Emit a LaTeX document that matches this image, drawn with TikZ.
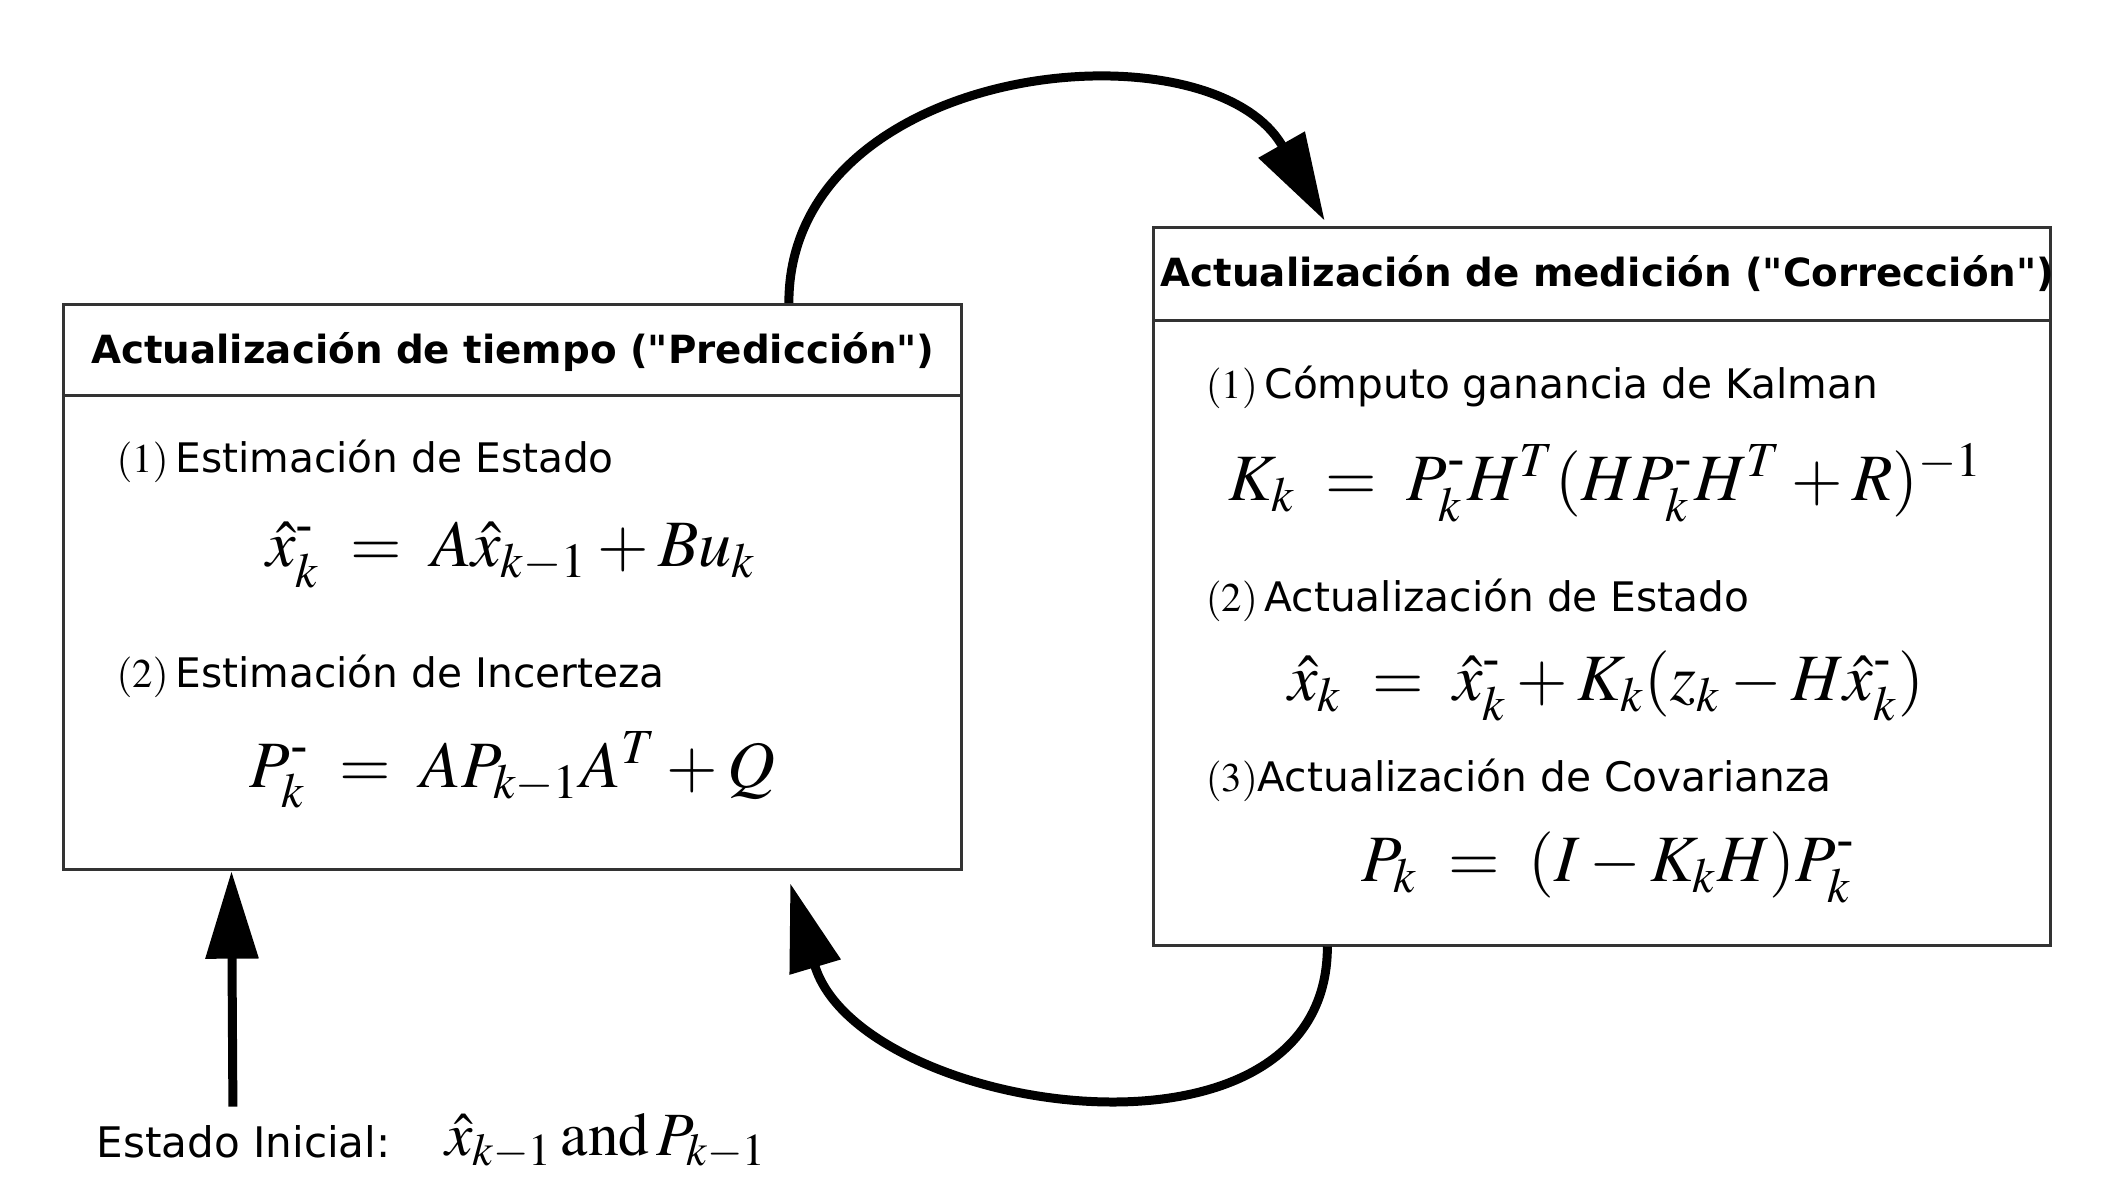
\documentclass[tikz,border=0pt]{standalone}
\usepackage{amsmath}
\usepackage{mathptmx}
\usepackage[no-math]{fontspec}
\setmainfont{DejaVu Sans}[Ligatures=TeXOff]
\usetikzlibrary{arrows.meta}

\tikzset{
  caja/.style={draw=black!80, line width=0.6pt, inner sep=0pt},
  titulo/.style={font=\fontsize{8.2}{10}\selectfont\bfseries, inner sep=0pt, anchor=base},
  paso/.style={font=\fontsize{8.6}{10}\selectfont, inner sep=0pt, anchor=base west},
  formula/.style={font=\fontsize{14}{16}\selectfont, inner sep=0pt, anchor=base},
  flecha/.style={line width=1.9pt, -{Triangle[length=0.65cm, width=0.38cm]}},
}

\begin{document}
\begin{tikzpicture}
    \useasboundingbox (0,0) rectangle (15.68,-8.83);

    % Cajas
    \node[caja, minimum width=6.67cm, minimum height=4.20cm] (pred) at (3.805,-4.36) {};
    \node[caja, minimum width=6.66cm, minimum height=5.33cm] (corr) at (11.90,-4.355) {};
    \draw[black!80, line width=0.6pt] ([yshift=-0.69cm]pred.north west) -- ([yshift=-0.69cm]pred.north east);
    \draw[black!80, line width=0.6pt] ([yshift=-0.70cm]corr.north west) -- ([yshift=-0.70cm]corr.north east);

    \node[titulo] (tpred) at (3.81,-2.70) {Actualización de tiempo ("Predicción")};
    \node[titulo] (tcorr) at (11.94,-2.13) {Actualización de medición ("Corrección")};

    % Prediccion
    \node[paso] (p1) at (0.86,-3.51) {$(1)$\,Estimación de Estado};
    \node[formula] (e1) at (3.80,-4.21) {$\hat{x}^{\text{-}}_k \;=\; A\hat{x}_{k-1}+Bu_k$};
    \node[paso] (p2) at (0.86,-5.11) {$(2)$\,Estimación de Incerteza};
    \node[formula] (e2) at (3.805,-5.85) {$P^{\text{-}}_k \;=\; AP_{k-1}A^T+Q$};

    % Correccion
    \node[paso] (c1) at (8.95,-2.96) {$(1)$\,Cómputo ganancia de Kalman};
    \node[formula] (f1) at (11.93,-3.72) {$K_k \;=\; P^{\text{-}}_kH^T(HP^{\text{-}}_kH^T+R)^{-1}$};
    \node[paso] (c2) at (8.95,-4.54) {$(2)$\,Actualización de Estado};
    \node[formula] (f2) at (11.93,-5.20) {$\hat{x}_k \;=\; \hat{x}^{\text{-}}_k+K_k(z_k-H\hat{x}^{\text{-}}_k)$};
    \node[paso] (c3) at (8.95,-5.88) {$(3)$Actualización de Covarianza};
    \node[formula] (f3) at (11.95,-6.55) {$P_k \;=\; (I-K_kH)P^{\text{-}}_k$};

    % Estado inicial
    \node[paso, font=\fontsize{8.9}{10}\selectfont] (ini) at (0.71,-8.60) {Estado Inicial:};
    \node[formula, anchor=base west, font=\fontsize{13}{15}\selectfont] (inival) at (3.30,-8.58) {$\hat{x}_{k-1}\,\mathrm{and}\,P_{k-1}$};

    % Flechas
    \coordinate (a0) at ([xshift=5.40cm]pred.north west);
    \coordinate (a1) at ([xshift=1.28cm, yshift=0.04cm]corr.north west);
    \draw[flecha] (a0) .. controls +(0,1.80) and +(-0.85,1.50) .. (a1);

    \coordinate (b0) at ([xshift=1.30cm]corr.south west);
    \coordinate (b1) at ([xshift=5.41cm, yshift=-0.09cm]pred.south west);
    \draw[flecha] (b0) .. controls +(0,-1.78) and +(0.51,-1.71) .. (b1);

    \coordinate (s0) at (1.73,-8.22);
    \draw[flecha] (s0) -- ([xshift=1.26cm]pred.south west);
\end{tikzpicture}
\end{document}
